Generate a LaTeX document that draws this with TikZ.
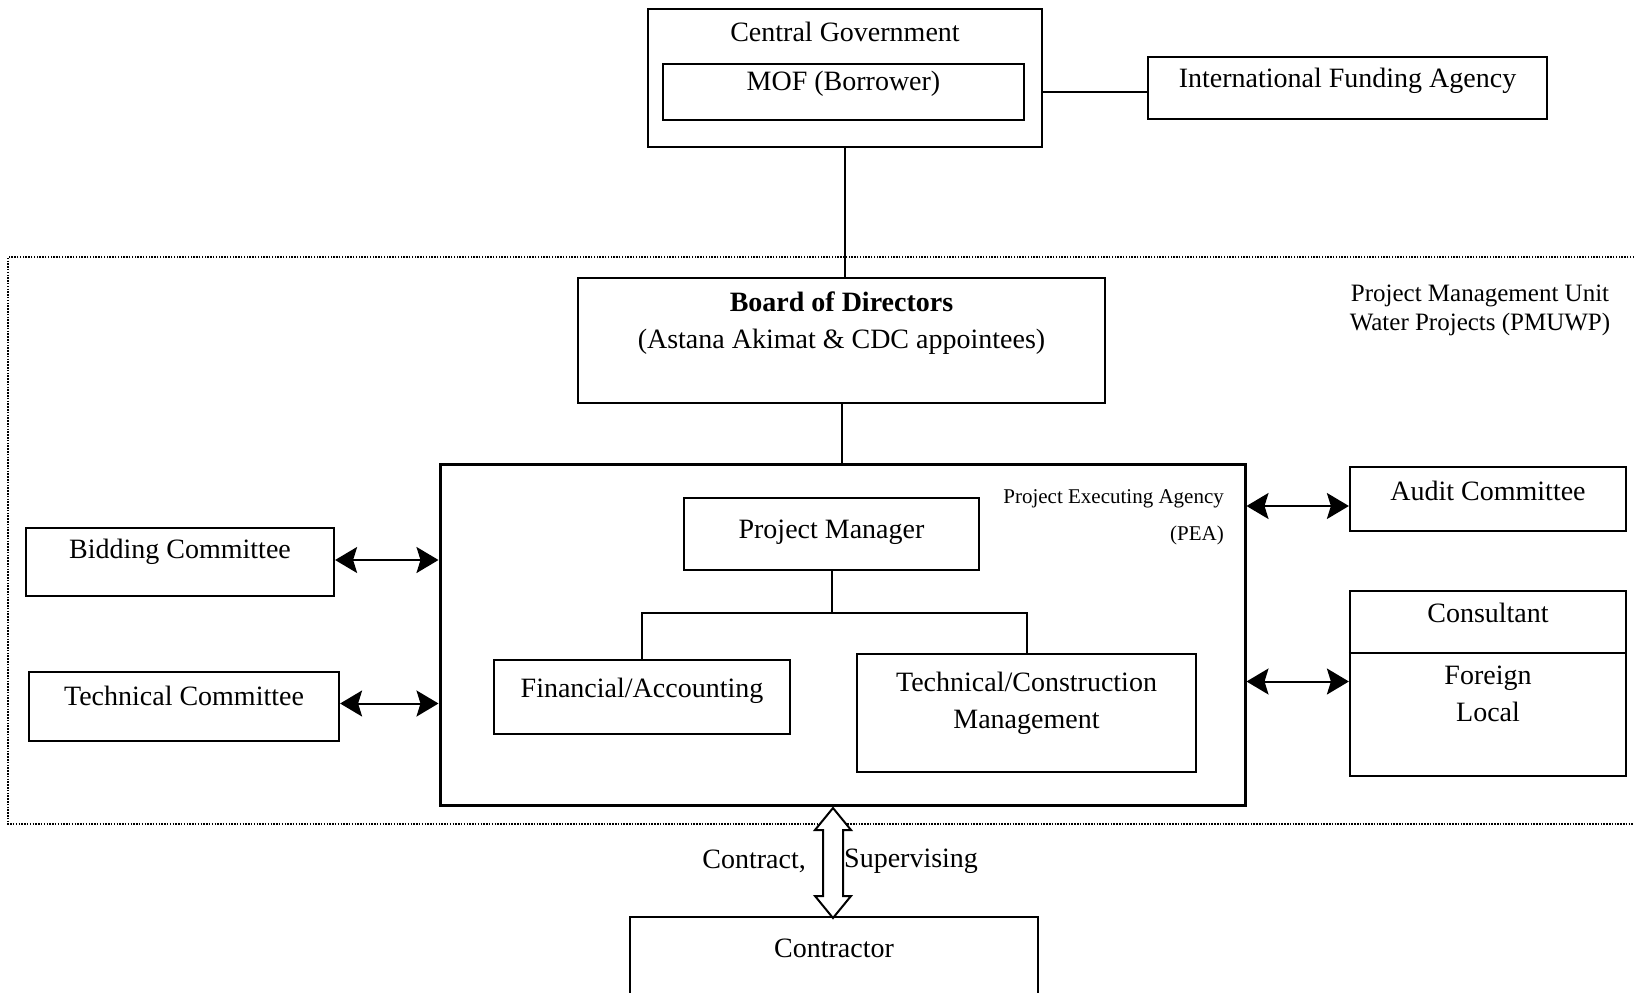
\documentclass[tikz,border=0pt]{standalone}
\usepackage{fontspec}
\setmainfont{Liberation Serif}
\usetikzlibrary{arrows.meta,calc}
\begin{document}
\begin{tikzpicture}[x=1pt,y=-1pt,
  box/.style={draw, line width=2.2pt, rectangle, inner sep=0pt, align=center, font=\fontsize{28}{37.5}\selectfont},
  txt/.style={inner sep=0pt, align=center, font=\fontsize{28}{37.5}\selectfont},
  small/.style={inner sep=0pt, font=\fontsize{21}{26}\selectfont},
  conn/.style={line width=2pt},
  dbl/.style={line width=2pt, {Stealth[length=22pt,width=26pt,inset=4pt]}-{Stealth[length=22pt,width=26pt,inset=4pt]}},
  frame/.style={line width=1.6pt, dash pattern=on 1.5pt off 1.3pt},
]
\useasboundingbox (0,0) rectangle (1634,993);

% dotted PMUWP frame
\draw[frame] (1634,257) -- (8,257) -- (8,824) -- (1634,824);
\node[inner sep=0pt, align=center, font=\fontsize{25}{29}\selectfont] (pmuwp) at (1480,310) {Project Management Unit\\Water Projects (PMUWP)};

% Central government
\node[box, minimum width=394pt, minimum height=138pt] (cg) at (845,78) {};
\node[txt] (cgt) at (845,32) {Central Government};
\node[box, line width=2pt, minimum width=361pt, minimum height=56pt] (mof) at (843.5,92) {};
\node[txt] (moft) at (843.5,84) {MOF (Borrower)};

\node[box, minimum width=399pt, minimum height=62pt] (ifa) at (1347.5,88) {};
\node[txt] (ifat) at (1347.5,81) {International Funding Agency};
\draw[conn] (cg.east |- mof.east) -- (ifa.west |- mof.east);

% Board
\node[box, minimum width=527pt, minimum height=125pt] (board) at (841.5,340.5) {};
\node[txt] (boardt) at (841.5,323) {\textbf{Board of Directors}\\(Astana Akimat \& CDC appointees)};
\draw[conn] (cg.south) -- (cg.south |- board.north);

% PEA
\node[box, line width=3pt, minimum width=805pt, minimum height=341pt] (pea) at (842.5,634.5) {};
\draw[conn] (board.south) -- (board.south |- pea.north);
\node[small, anchor=east] (peat1) at (1224,499) {Project Executing Agency};
\node[small, anchor=east] (peat2) at (1224,535) {(PEA)};

\node[box, minimum width=295pt, minimum height=72pt] (pm) at (831.5,534) {};
\node[txt] (pmt) at (831.5,532) {Project Manager};
\node[box, minimum width=296pt, minimum height=74pt] (fin) at (642,697) {};
\node[txt] (fint) at (642,691) {Financial/Accounting};
\node[box, minimum width=339pt, minimum height=118pt] (tech) at (1026.5,713) {};
\node[txt] (techt) at (1026.5,703.5) {Technical/Construction\\Management};

\coordinate (bary) at (0,613);
\draw[conn] (pm.south) -- (pm.south |- bary);
\draw[conn] (fin.north) -- (fin.north |- bary) -- (tech.north |- bary) -- (tech.north);

% Left committees
\node[box, minimum width=308pt, minimum height=68pt] (bid) at (180,562) {};
\node[txt] (bidt) at (180,552) {Bidding Committee};
\node[box, minimum width=310pt, minimum height=69pt] (tc) at (184,706.5) {};
\node[txt] (tct) at (184,696) {Technical Committee};
\draw[dbl] ([yshift=2pt]bid.east) -- ([yshift=2pt]bid.east -| pea.west);
\draw[dbl] ([yshift=3pt]tc.east) -- ([yshift=3pt]tc.east -| pea.west);

% Right boxes
\node[box, minimum width=276pt, minimum height=64pt] (audit) at (1488,499) {};
\node[txt] (auditt) at (1488,491) {Audit Committee};
\node[box, minimum width=276pt, minimum height=185pt] (cons) at (1488,683.5) {};
\coordinate (divy) at (0,653);
\draw[line width=2pt] (cons.west |- divy) -- (cons.east |- divy);
\node[txt] (const) at (1488,613) {Consultant};
\node[txt] (consfl) at (1488,694) {Foreign\\Local};
\draw[dbl] ([yshift=-7pt]audit.west -| pea.east) -- ([yshift=-7pt]audit.west);
\draw[dbl] ([yshift=2pt]cons.west -| pea.east) -- ([yshift=2pt]cons.west);

% Contractor
\node[box, minimum width=408pt, minimum height=90pt] (contr) at (834,962) {};
\node[txt] (contrt) at (834,948) {Contractor};

% open double arrow
\coordinate (atop) at ($(pea.south)+(-9.5,1.5)$);
\draw[line width=2pt, fill=white, line join=miter] (atop) -- ++(18,22) -- ++(-8,0) -- ++(0,66) -- ++(8,0) -- ++(-18,22) -- ++(-18,-22) -- ++(8,0) -- ++(0,-66) -- ++(-8,0) -- cycle;
\node[txt, anchor=east] (contract) at (806,861) {Contract,};
\node[txt, anchor=west] (superv) at (844,861) {Supervising};
\end{tikzpicture}
\end{document}
